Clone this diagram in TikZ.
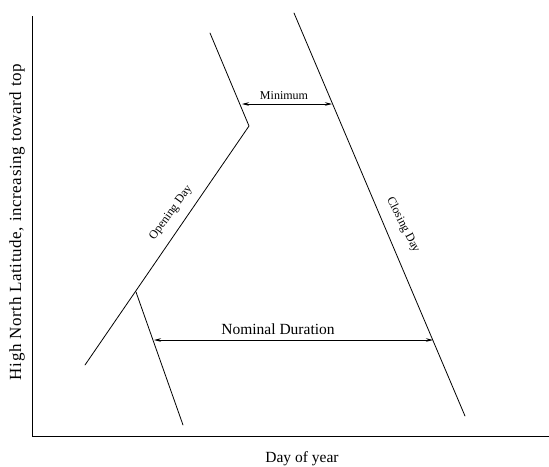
\documentclass[tikz,border=0pt]{standalone}
\usepackage{fontspec}
\setmainfont{Liberation Serif}
\usetikzlibrary{arrows.meta}
\begin{document}
\begin{tikzpicture}[x=1pt,y=-1pt,
  curve/.style={line width=0.8pt,line cap=round},
  axis/.style={line width=1pt},
  dim/.style={line width=0.7pt,{Stealth[length=7pt,width=3.5pt]}-{Stealth[length=7pt,width=3.5pt]}},
  lbl/.style={inner sep=0pt}]
\useasboundingbox (0,0) rectangle (549,466);
% axes
\coordinate (ytop) at (32,16);
\coordinate (orig) at (32,436);
\coordinate (xend) at (549,436);
\draw[axis] (ytop) -- (orig) -- (xend);
% opening day
\coordinate (o1) at (85,365);
\coordinate (o2) at (249,126);
\coordinate (o3) at (210,33);
\coordinate (b1) at (136,292);
\coordinate (b2) at (183,425);
\draw[curve] (o1) -- (o2) -- (o3);
\draw[curve] (b1) -- (b2);
% closing day
\coordinate (c1) at (294,13);
\coordinate (c2) at (465,416);
\draw[curve] (c1) -- (c2);
% dimension arrows
\coordinate (m1) at (242,104);
\coordinate (m2) at (332,104);
\draw[dim] (m1) -- (m2);
\coordinate (n1) at (154,340);
\coordinate (n2) at (433,340);
\draw[dim] (n1) -- (n2);
% labels
\node[lbl,font=\fontsize{12}{14}\selectfont] (minlbl) at (284,96) {Minimum};
\node[lbl,font=\fontsize{15.5}{18}\selectfont] (nomlbl) at (278,329) {Nominal Duration};
\node[lbl,font=\fontsize{12}{14}\selectfont,rotate=54] (openlbl) at (171,213) {Opening Day};
\node[lbl,font=\fontsize{12}{14}\selectfont,rotate=-63] (closelbl) at (403,225) {Closing Day};
\node[lbl,font=\fontsize{15.5}{18}\selectfont] (xlbl) at (302,459) {Day of year};
\node[lbl,font=\fontsize{17}{20}\selectfont\addfontfeature{LetterSpace=3.5},rotate=90] (ylbl) at (17,222) {High North Latitude, increasing toward top};
\end{tikzpicture}
\end{document}
